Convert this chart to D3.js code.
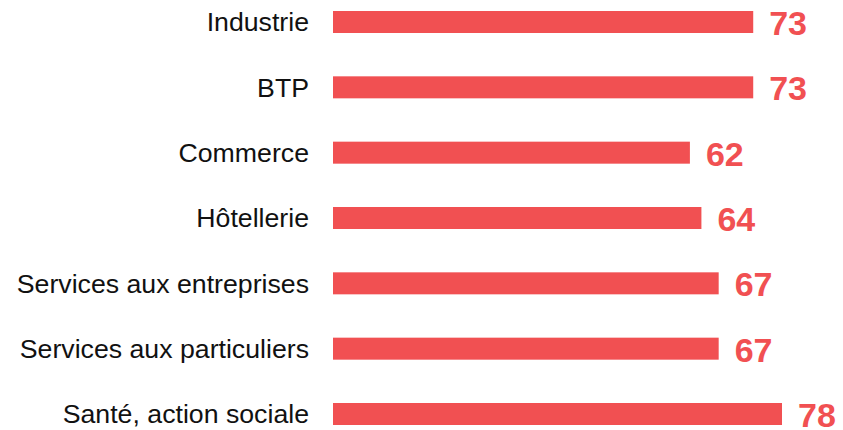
<!DOCTYPE html>
<html>
<head>
<meta charset="utf-8">
<script src="https://cdn.jsdelivr.net/npm/d3@7"></script>
<style>
  body { margin: 0; background: #fff; }
  svg { display: block; }
</style>
</head>
<body>
<svg id="chart" width="843" height="430"></svg>
<script>
const categories = [
    "Industrie",
    "BTP",
    "Commerce",
    "Hôtellerie",
    "Services aux entreprises",
    "Services aux particuliers",
    "Santé, action sociale"
];
const values = [73, 73, 62, 64, 67, 67, 78];

const BAR_COLOR = "#f15052";
const BAR_HEIGHT = 22;

var data = categories.map((c, i) => ({ "Category": c, "Value": values[i] }));

var svg = d3.select("svg#chart");

var x = d3.scaleLinear()
    .domain([0, d3.max(values)])
    .range([333, 782]);

var y = d3.scalePoint()
    .domain(categories)
    .range([22, 414]);

var rows = svg.append("g").selectAll("g")
    .data(data)
    .join("g")
    .attr("transform", datum => "translate(0," + y(datum.Category) + ")");

rows.append("rect")
    .attr("x", x(0))
    .attr("y", -BAR_HEIGHT / 2)
    .attr("width", datum => x(datum.Value) - x(0))
    .attr("height", BAR_HEIGHT)
    .attr("fill", BAR_COLOR);

rows.append("text")
    .attr("x", x(0) - 24)
    .attr("dy", "0.35em")
    .attr("text-anchor", "end")
    .style("font-family", "'Liberation Sans', Arial, sans-serif")
    .style("font-size", "26.7px")
    .style("fill", "#111")
    .text(datum => datum.Category);

rows.append("text")
    .attr("x", datum => x(datum.Value) + 16)
    .attr("y", 1)
    .attr("dy", "0.35em")
    .style("font-family", "'Liberation Sans', Arial, sans-serif")
    .style("font-size", "34px")
    .style("font-weight", "bold")
    .style("fill", BAR_COLOR)
    .text(datum => datum.Value);
</script>
</body>
</html>
